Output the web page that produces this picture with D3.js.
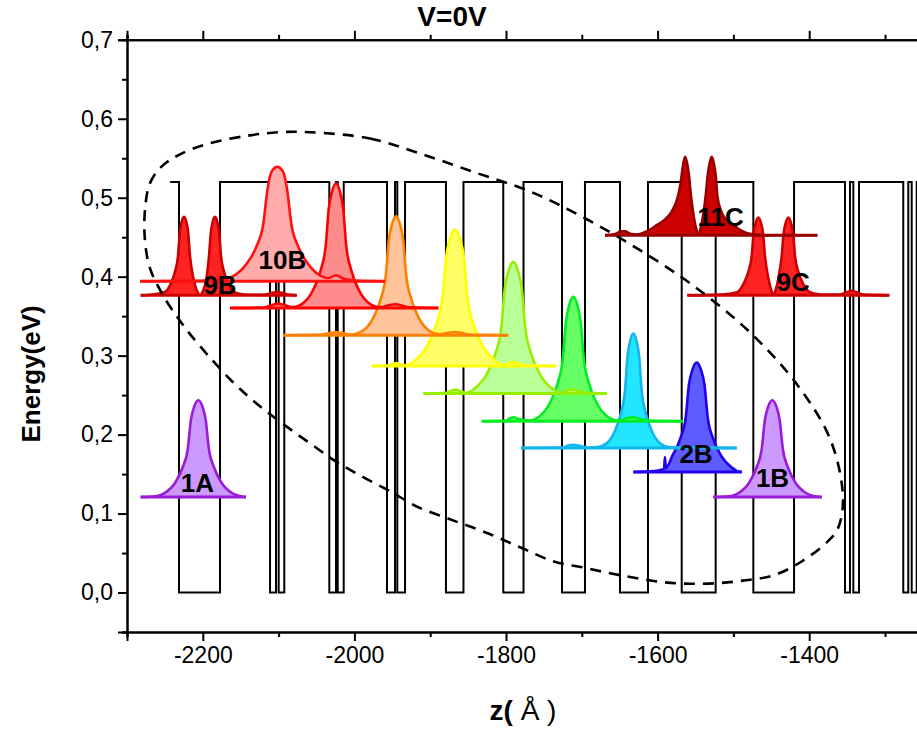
<!DOCTYPE html>
<html>
<head>
<meta charset="utf-8">
<script src="https://cdn.jsdelivr.net/npm/d3@7"></script>
<style>
  html, body { margin: 0; padding: 0; background: #fff; }
  svg { display: block; }
</style>
</head>
<body>
<svg id="chart" width="917" height="729"></svg>
<script>
// ---- axis ticks ----
const xMajorTicks = [-2200, -2000, -1800, -1600, -1400];
const xMinorTicks = [-2300, -2100, -1900, -1700, -1500, -1300];
const yMajorTicks = [0, 0.1, 0.2, 0.3, 0.4, 0.5, 0.6, 0.7];
const yMinorTicks = [-0.05, 0.05, 0.15, 0.25, 0.35, 0.45, 0.55, 0.65];

// ---- conduction band profile (Å) ----
const barrierHeight = 0.52;
const profileStart = -2243;
const profileEnd = -1200;
const wellEdges = [
  [-2231.4, -2177.3],
  [-2111.3, -2103.4], [-2099.9, -2092.5],
  [-2033.1, -2024.3], [-2022.0, -2014.1],
  [-1957.0, -1946.4], [-1943.4, -1933.2],
  [-1879.2, -1856.1],
  [-1803.6, -1776.9],
  [-1726.1, -1695.8],
  [-1649.6, -1612.7],
  [-1568.2, -1523.4],
  [-1473.7, -1420.0],
  [-1352.8, -1346.2], [-1341.8, -1334.3],
  [-1275.9, -1269.3], [-1264.8, -1258.2]
];

// ---- probability densities: [z (Å), height above level (eV)] ----
const psi1A = [[-2282,0],[-2262,0.001],[-2250.4,0.005],[-2236.5,0.018],[-2226.8,0.037],[-2219.8,0.061],[-2215.6,0.098],[-2211.5,0.114],[-2205.9,0.1225],[-2200.3,0.114],[-2196.2,0.098],[-2192.0,0.061],[-2185.0,0.037],[-2175.3,0.018],[-2161.4,0.005],[-2150,0.001],[-2143,0]];
const psi1B = [[-1526.5,0],[-1505,0.001],[-1493.2,0.005],[-1479.3,0.018],[-1469.6,0.037],[-1462.6,0.061],[-1458.4,0.098],[-1454.3,0.114],[-1448.7,0.1225],[-1443.1,0.114],[-1439.0,0.098],[-1434.8,0.061],[-1427.8,0.037],[-1418.1,0.018],[-1404.2,0.005],[-1393,0.001],[-1383.5,0]];
const psi2B = [[-1632,0],[-1605,0.001],[-1594,0.003],[-1591.5,0.004],[-1590.3,0.019],[-1589,0.005],[-1580.3,0.021],[-1570.2,0.042],[-1562.9,0.069],[-1558.6,0.111],[-1554.2,0.129],[-1548.4,0.1386],[-1542.6,0.129],[-1538.2,0.111],[-1533.9,0.069],[-1526.6,0.042],[-1516.5,0.021],[-1502,0.0055],[-1495,0.001],[-1489,0]];
const psiS4 = [[-1780.2,0],[-1725,0.0005],[-1718,0.003],[-1711.6,0.004],[-1705,0.003],[-1690,0.0005],[-1680,0.001],[-1667.2,0.0058],[-1656.2,0.0217],[-1648.5,0.0435],[-1643.0,0.0725],[-1639.7,0.1159],[-1636.4,0.1348],[-1632.0,0.1449],[-1627.6,0.1348],[-1624.3,0.1159],[-1621.0,0.0725],[-1615.5,0.0435],[-1607.8,0.0217],[-1596.8,0.0058],[-1585,0.001],[-1495.6,0]];
const psiS5 = [[-1832,0],[-1800,0.0005],[-1794,0.004],[-1790,0.005],[-1784,0.003],[-1770,0.0008],[-1755.7,0.0063],[-1741.8,0.0236],[-1732.1,0.0472],[-1725.1,0.0787],[-1720.9,0.1259],[-1716.8,0.1464],[-1711.2,0.1574],[-1705.6,0.1464],[-1701.5,0.1259],[-1697.3,0.0787],[-1690.3,0.0472],[-1680.6,0.0236],[-1666.7,0.0063],[-1652,0.001],[-1640,0.004],[-1632,0.005],[-1624,0.003],[-1610,0.0005],[-1566.9,0]];
const psiS6 = [[-1909.1,0],[-1880,0.0005],[-1872,0.004],[-1866,0.005],[-1860,0.003],[-1852,0.0008],[-1841.0,0.0067],[-1825.2,0.025],[-1814.1,0.05],[-1806.2,0.0834],[-1801.5,0.1334],[-1796.7,0.155],[-1790.4,0.1667],[-1784.1,0.155],[-1779.3,0.1334],[-1774.6,0.0834],[-1766.7,0.05],[-1755.6,0.025],[-1739.8,0.0067],[-1728,0.001],[-1718,0.004],[-1711,0.005],[-1704,0.003],[-1690,0.0005],[-1667.1,0]];
const psiS7 = [[-1976.8,0],[-1955,0.0005],[-1948,0.003],[-1945,0.0035],[-1940,0.002],[-1932,0.0008],[-1920.1,0.0069],[-1903.6,0.026],[-1892.1,0.0519],[-1883.8,0.0866],[-1878.9,0.1385],[-1873.9,0.161],[-1867.3,0.1731],[-1860.7,0.161],[-1855.7,0.1385],[-1850.8,0.0866],[-1842.5,0.0519],[-1831.0,0.026],[-1814.5,0.0069],[-1803,0.001],[-1796,0.004],[-1790,0.005],[-1783,0.003],[-1770,0.0005],[-1734.4,0]];
const psiS8 = [[-2093.8,0],[-2045,0.0005],[-2030,0.003],[-2024.3,0.004],[-2018,0.003],[-2005,0.0008],[-1988.3,0.006],[-1974.8,0.0226],[-1965.4,0.0452],[-1958.6,0.0754],[-1954.6,0.1206],[-1950.5,0.1402],[-1945.1,0.1507],[-1939.7,0.1402],[-1935.6,0.1206],[-1931.6,0.0754],[-1924.8,0.0452],[-1915.4,0.0226],[-1901.9,0.006],[-1888,0.001],[-1874,0.0035],[-1867,0.004],[-1860,0.003],[-1845,0.0005],[-1797,0]];
const psiS9 = [[-2164.1,0],[-2120,0.0005],[-2107,0.004],[-2100.8,0.0055],[-2094,0.004],[-2082,0.001],[-2067.5,0.0063],[-2054.0,0.0236],[-2044.6,0.0473],[-2037.8,0.0788],[-2033.8,0.1261],[-2029.7,0.1466],[-2024.3,0.1576],[-2018.9,0.1466],[-2014.8,0.1261],[-2010.8,0.0788],[-2004.0,0.0473],[-1994.6,0.0236],[-1981.1,0.0063],[-1966,0.001],[-1952,0.004],[-1945,0.0046],[-1938,0.003],[-1925,0.0005],[-1889.3,0]];
const psi9B = [[-2281.9,0],[-2266,0.001],[-2250.1,0.004],[-2242.2,0.0149],[-2236.7,0.0298],[-2232.7,0.0496],[-2230.3,0.0794],[-2228.0,0.0923],[-2224.8,0.0992],[-2221.6,0.0923],[-2219.3,0.0794],[-2216.9,0.0496],[-2212.5,0.022],[-2207.5,0.005],[-2203.7,0],[-2199.9,0.005],[-2195.1,0.022],[-2191.8,0.0496],[-2189.4,0.0794],[-2187.1,0.0923],[-2183.9,0.0992],[-2180.7,0.0923],[-2178.4,0.0794],[-2176.0,0.0496],[-2172.0,0.0298],[-2166.5,0.0149],[-2158.6,0.004],[-2145,0.001],[-2120,0.0005],[-2108,0.003],[-2102,0.0042],[-2096,0.003],[-2085,0.0005],[-2076.1,0]];
const psi9C = [[-1560.8,0],[-1515,0.001],[-1495.3,0.0039],[-1486.5,0.0148],[-1480.3,0.0295],[-1475.9,0.0492],[-1473.3,0.0787],[-1470.6,0.0915],[-1467.1,0.0984],[-1463.6,0.0915],[-1460.9,0.0787],[-1458.3,0.0492],[-1454,0.022],[-1450,0.006],[-1447.3,0],[-1444.5,0.006],[-1440.5,0.022],[-1436.3,0.0492],[-1433.7,0.0787],[-1431.0,0.0915],[-1427.5,0.0984],[-1424.0,0.0915],[-1421.3,0.0787],[-1418.7,0.0492],[-1414.3,0.0295],[-1408.1,0.0148],[-1399.3,0.0039],[-1385,0.001],[-1360,0.0008],[-1350,0.004],[-1344,0.0055],[-1338,0.004],[-1328,0.0008],[-1294.3,0]];
const psi10B = [[-2282.8,0],[-2200,0.0005],[-2175,0.002],[-2160.9,0.0058],[-2142.4,0.0217],[-2129.5,0.0434],[-2120.2,0.0724],[-2114.7,0.1158],[-2109.1,0.139],[-2101.7,0.1448],[-2094.3,0.139],[-2088.7,0.1158],[-2083.2,0.0724],[-2073.9,0.0434],[-2061.0,0.0217],[-2042.5,0.0058],[-2034,0.004],[-2024.3,0.0076],[-2014,0.003],[-1995,0.0005],[-1959.6,0]];
const psi11C = [[-1669.4,0],[-1655,0.002],[-1648,0.005],[-1643,0.005],[-1636,0.002],[-1628,0.001],[-1616.6,0.004],[-1601.2,0.0127],[-1590.2,0.02],[-1581.4,0.03],[-1574.4,0.045],[-1569.8,0.065],[-1566.5,0.088],[-1563.8,0.0992],[-1560.8,0.09],[-1558.5,0.075],[-1556,0.05],[-1552,0.022],[-1548.5,0.006],[-1546.3,0],[-1544,0.006],[-1540.5,0.022],[-1536.6,0.0496],[-1534,0.075],[-1531.6,0.09],[-1528.6,0.0992],[-1525.6,0.09],[-1523.3,0.075],[-1521.1,0.0496],[-1516,0.03],[-1510,0.02],[-1500,0.0127],[-1490,0.006],[-1480,0.002],[-1460,0],[-1389.3,0]];

// states, lowest level first (that is also the drawing order)
const stateProfiles = [psi1A, psi1B, psi2B, psiS4, psiS5, psiS6, psiS7, psiS8, psiS9, psi9B, psi9C, psi10B, psi11C];
const stateLevels   = [0.121, 0.121, 0.1527, 0.1831, 0.217, 0.252, 0.287, 0.3259, 0.3604, 0.3765, 0.3765, 0.3943, 0.4525];
const stateLabels   = ["1A", "1B", "2B", "", "", "", "", "", "", "9B", "9C", "10B", "11C"];

// label anchors [z, E] for the named states
const labelAnchors = {
  "1A": [-2207, 0.1274], "1B": [-1448.4, 0.1337], "2B": [-1549.3, 0.1634],
  "9B": [-2177.3, 0.3778], "9C": [-1421.3, 0.382], "10B": [-2094.9, 0.4103], "11C": [-1516.7, 0.4639]
};

// dashed guide loop around the B/C sequence [z, E]
const guideLoop = [
  [-2058.6,0.583],[-1979.4,0.575],[-1913.4,0.556],[-1840.9,0.532],[-1768.3,0.508],[-1695.8,0.474],
  [-1623.2,0.4335],[-1552.0,0.388],[-1475.4,0.327],[-1413.4,0.260],[-1371.2,0.1916],[-1355.4,0.1194],
  [-1362,0.0814],[-1375.2,0.065],[-1409.5,0.0396],[-1446.4,0.0219],[-1483.4,0.0156],[-1521.6,0.0118],
  [-1557.2,0.0111],[-1591.5,0.013],[-1627.2,0.0181],[-1662.8,0.0244],[-1699.7,0.032],[-1738,0.0396],
  [-1781.5,0.0574],[-1827.7,0.0764],[-1873.9,0.0928],[-1918.7,0.1093],[-1950.4,0.127],[-1986,0.1448],
  [-2022.9,0.165],[-2058.6,0.189],[-2095.5,0.2144],[-2131.1,0.241],[-2161.5,0.2676],[-2203.7,0.312],
  [-2228.8,0.3423],[-2252.5,0.3765],[-2269.7,0.4107],[-2276.3,0.446],[-2276.3,0.4842],[-2269.7,0.5184],
  [-2253.8,0.54],[-2230.1,0.555],[-2190.5,0.569],[-2137.7,0.579],[-2098.1,0.583]
];

// ---- styles ----
const stateFill   = ["#cc99ff","#cc99ff","#5c5cff","#22e5ff","#66ff66","#bbff99","#ffff66","#ffc499","#ff8c8c","#ff2222","#ff2222","#ffabab","#cc0000"];
const stateStroke = ["#9a1bd8","#9a1bd8","#2200ee","#14b4ec","#00ee22","#99ee00","#ffff00","#ff8000","#ff0000","#cc0000","#cc0000","#ff1111","#990000"];

const narrowFont = "'Liberation Sans Narrow', 'Arial Narrow', 'Liberation Sans', Arial, sans-serif";
const boldFont = "'Liberation Sans', Arial, Helvetica, sans-serif";

const svg = d3.select("#chart");
const W = 917, H = 729;
svg.append("rect").attr("width", W).attr("height", H).attr("fill", "#fff");

const plotLeft = 127, plotTop = 39.8, plotBottom = 632;
const x = d3.scaleLinear().domain([-2300, -1200]).range([plotLeft, plotLeft + 1100 * 0.758]);
const y = d3.scaleLinear().domain([-0.05, 0.7]).range([plotBottom, plotTop]);

// ---- potential profile ----
const profile = [[profileStart, barrierHeight]];
wellEdges.forEach(([a, b]) => {
  profile.push([a, barrierHeight], [a, 0], [b, 0], [b, barrierHeight]);
});
profile.push([profileEnd, barrierHeight]);

svg.append("path")
  .attr("d", d3.line().x(d => x(d[0])).y(d => y(d[1]))(profile))
  .attr("fill", "none").attr("stroke", "#000").attr("stroke-width", 2)
  .attr("stroke-linejoin", "miter");

// ---- wavefunctions ----
const gW = svg.append("g");
stateProfiles.forEach((pts, i) => {
  const E0 = stateLevels[i];
  const area = d3.area().curve(d3.curveMonotoneX)
    .x(d => x(d[0])).y0(y(E0)).y1(d => y(E0 + d[1]));
  const line = d3.line().curve(d3.curveMonotoneX)
    .x(d => x(d[0])).y(d => y(E0 + d[1]));
  const g = gW.append("g");
  g.append("path").attr("d", area(pts)).attr("fill", stateFill[i]).attr("stroke", "none");
  const zs = d3.extent(pts, d => d[0]);
  g.append("line")
    .attr("x1", x(zs[0])).attr("x2", x(zs[1]))
    .attr("y1", y(E0)).attr("y2", y(E0))
    .attr("stroke", stateStroke[i]).attr("stroke-width", 3);
  g.append("path").attr("d", line(pts)).attr("fill", "none")
    .attr("stroke", stateStroke[i]).attr("stroke-width", 2.6)
    .attr("stroke-linejoin", "round");
});

// ---- dashed guide ----
svg.append("path")
  .attr("d", d3.line().curve(d3.curveCatmullRomClosed.alpha(0.5)).x(d => x(d[0])).y(d => y(d[1]))(guideLoop))
  .attr("fill", "none").attr("stroke", "#000").attr("stroke-width", 2.6)
  .attr("stroke-dasharray", "11,8");

// ---- state labels ----
stateLabels.forEach(lbl => {
  if (!lbl) return;
  const [lz, le] = labelAnchors[lbl];
  svg.append("text")
    .attr("x", x(lz)).attr("y", y(le))
    .attr("text-anchor", "middle")
    .attr("font-family", boldFont).attr("font-weight", "bold")
    .attr("font-size", 26).attr("fill", "#000")
    .text(lbl);
});

// ---- axes ----
const commaFmt = v => d3.format(".1f")(v).replace(".", ",");

function styleAxis(g) {
  g.select(".domain").attr("stroke", "#000").attr("stroke-width", 2);
  g.selectAll(".tick line").attr("stroke", "#000").attr("stroke-width", 2);
  g.selectAll(".tick text").attr("fill", "#000")
    .attr("font-family", narrowFont).attr("font-size", 23);
}

// bottom
svg.append("g").attr("transform", `translate(0,${plotBottom})`)
  .call(d3.axisBottom(x).tickValues(xMinorTicks).tickSize(5).tickFormat(""))
  .call(styleAxis);
svg.append("g").attr("transform", `translate(0,${plotBottom})`)
  .call(d3.axisBottom(x).tickValues(xMajorTicks).tickSize(9).tickPadding(6).tickFormat(d => String(d)))
  .call(styleAxis);

// top
svg.append("g").attr("transform", `translate(0,${plotTop})`)
  .call(d3.axisTop(x).tickValues(xMinorTicks).tickSize(5).tickFormat(""))
  .call(styleAxis);
svg.append("g").attr("transform", `translate(0,${plotTop})`)
  .call(d3.axisTop(x).tickValues(xMajorTicks).tickSize(9).tickFormat(""))
  .call(styleAxis);

// left
svg.append("g").attr("transform", `translate(${plotLeft},0)`)
  .call(d3.axisLeft(y).tickValues(yMinorTicks).tickSize(5).tickFormat(""))
  .call(styleAxis);
svg.append("g").attr("transform", `translate(${plotLeft},0)`)
  .call(d3.axisLeft(y).tickValues(yMajorTicks).tickSize(9).tickPadding(5).tickFormat(commaFmt))
  .call(styleAxis);

// titles
svg.append("text")
  .attr("x", 452).attr("y", 26).attr("text-anchor", "middle")
  .attr("font-family", narrowFont).attr("font-weight", "bold").attr("font-size", 28)
  .text("V=0V");

svg.append("text")
  .attr("transform", `translate(40,${(plotTop + plotBottom) / 2 + 38}) rotate(-90)`)
  .attr("text-anchor", "middle")
  .attr("font-family", boldFont).attr("font-weight", "bold").attr("font-size", 26)
  .text("Energy(eV)");

const xt = svg.append("text")
  .attr("x", 523).attr("y", 720).attr("text-anchor", "middle")
  .attr("font-family", boldFont).attr("font-size", 28);
xt.append("tspan").attr("font-weight", "bold").text("z(");
xt.append("tspan").text(" Å )");
</script>
</body>
</html>
